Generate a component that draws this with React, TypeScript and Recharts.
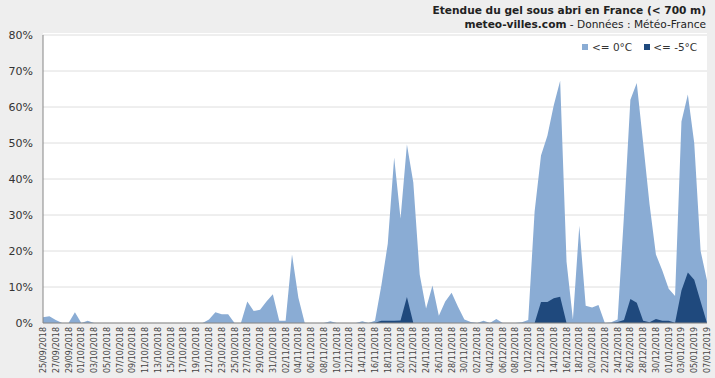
import { AreaChart, Area, XAxis, YAxis, CartesianGrid } from 'recharts';

// daily dates, 25/09/2018 -> 07/01/2019
const DATES = [
  '25/09/2018', '26/09/2018', '27/09/2018', '28/09/2018', '29/09/2018', '30/09/2018',
  '01/10/2018', '02/10/2018', '03/10/2018', '04/10/2018', '05/10/2018', '06/10/2018', '07/10/2018', '08/10/2018',
  '09/10/2018', '10/10/2018', '11/10/2018', '12/10/2018', '13/10/2018', '14/10/2018', '15/10/2018', '16/10/2018',
  '17/10/2018', '18/10/2018', '19/10/2018', '20/10/2018', '21/10/2018', '22/10/2018', '23/10/2018', '24/10/2018',
  '25/10/2018', '26/10/2018', '27/10/2018', '28/10/2018', '29/10/2018', '30/10/2018', '31/10/2018',
  '01/11/2018', '02/11/2018', '03/11/2018', '04/11/2018', '05/11/2018', '06/11/2018', '07/11/2018', '08/11/2018',
  '09/11/2018', '10/11/2018', '11/11/2018', '12/11/2018', '13/11/2018', '14/11/2018', '15/11/2018', '16/11/2018',
  '17/11/2018', '18/11/2018', '19/11/2018', '20/11/2018', '21/11/2018', '22/11/2018', '23/11/2018', '24/11/2018',
  '25/11/2018', '26/11/2018', '27/11/2018', '28/11/2018', '29/11/2018', '30/11/2018',
  '01/12/2018', '02/12/2018', '03/12/2018', '04/12/2018', '05/12/2018', '06/12/2018', '07/12/2018', '08/12/2018',
  '09/12/2018', '10/12/2018', '11/12/2018', '12/12/2018', '13/12/2018', '14/12/2018', '15/12/2018', '16/12/2018',
  '17/12/2018', '18/12/2018', '19/12/2018', '20/12/2018', '21/12/2018', '22/12/2018', '23/12/2018', '24/12/2018',
  '25/12/2018', '26/12/2018', '27/12/2018', '28/12/2018', '29/12/2018', '30/12/2018', '31/12/2018',
  '01/01/2019', '02/01/2019', '03/01/2019', '04/01/2019', '05/01/2019', '06/01/2019', '07/01/2019',
];

// % of stations at or below 0°C
const GEL_0 = [
  1.6, 1.9, 0.8, 0, 0, 3, 0, 0.6, 0, 0, 0, 0, 0, 0, 0, 0, 0, 0, 0, 0,
  0, 0, 0, 0, 0, 0, 1, 3, 2.4, 2.4, 0, 0, 6, 3.3, 3.7, 6, 8, 0.6, 0.6, 19,
  7, 0, 0, 0, 0, 0.5, 0, 0, 0, 0, 0.5, 0, 0.6, 10.5, 22, 46, 29, 49.6, 39, 13.5,
  4, 10.4, 2, 6, 8.4, 4.5, 1, 0.3, 0, 0.6, 0, 1.1, 0, 0, 0, 0.2, 0.8, 31, 46.5, 52,
  60.5, 67.3, 17, 1, 27, 4.8, 4.3, 5, 0, 0.2, 1, 30, 62, 66.7, 50, 33, 19, 14.6, 9.5, 7.5,
  56, 63.5, 50, 20, 11.8,
];

// % of stations at or below -5°C
const GEL_5 = [
  0, 0, 0, 0, 0, 0, 0, 0, 0, 0, 0, 0, 0, 0, 0, 0, 0, 0, 0, 0,
  0, 0, 0, 0, 0, 0, 0, 0, 0, 0, 0, 0, 0, 0, 0, 0, 0, 0, 0, 0,
  0, 0, 0, 0, 0, 0, 0, 0, 0, 0, 0, 0, 0.1, 0.6, 0.6, 0.6, 0.7, 7.2, 0, 0,
  0, 0, 0, 0, 0, 0, 0, 0, 0, 0, 0, 0, 0, 0, 0, 0, 0, 0, 5.8, 5.8,
  6.9, 7.3, 0, 0, 0, 0, 0, 0, 0, 0, 0.3, 0.8, 6.7, 5.6, 0.6, 0.2, 1.1, 0.6, 0.6, 0.1,
  9, 14, 12, 6, 0,
];

const Y_TICKS = [0, 10, 20, 30, 40, 50, 60, 70, 80];

const LIGHT = '#8aacd4';
const DARK = '#1f497d';
const FONT = '"DejaVu Sans", Verdana, sans-serif';

const data = DATES.map((d, i) => ({ date: d, g0: GEL_0[i], g5: GEL_5[i] }));

const DateTick = ({ x, y, payload }: any) => (
  <text
    transform={`translate(${x + 3},${y}) rotate(-90)`}
    textAnchor="end"
    fontSize={8}
    fontFamily={FONT}
    fill="#444"
  >
    {payload.value}
  </text>
);

export default function App() {
  return (
    <div style={{ position: 'absolute', left: 0, top: 0, width: 715, height: 378, background: '#eeeeee', fontFamily: FONT, overflow: 'hidden' }}>
      {/* white plot background */}
      <div style={{ position: 'absolute', left: 43, top: 33, width: 664, height: 290, background: '#fff' }} />

      <div style={{ position: 'absolute', right: 9, top: 3, textAlign: 'right', color: '#222', lineHeight: '14px' }}>
        <div style={{ fontSize: 10.6, fontWeight: 'bold' }}>Etendue du gel sous abri en France (&lt; 700 m)</div>
        <div style={{ fontSize: 10.6 }}>
          <b>meteo-villes.com</b> - Données : Météo-France
        </div>
      </div>

      <div style={{ position: 'absolute', left: 0, top: 0 }}>
        <AreaChart width={715} height={378} data={data} margin={{ top: 35, right: 8, left: 0, bottom: 0 }}>
          <CartesianGrid vertical={false} stroke="#dedede" />
          <XAxis
            dataKey="date"
            interval={1}
            height={55}
            tickLine={false}
            tickSize={0}
            tickMargin={4}
            axisLine={{ stroke: '#868686' }}
            tick={<DateTick />}
          />
          <YAxis
            width={43}
            domain={[0, 80]}
            ticks={Y_TICKS}
            tickFormatter={(v) => `${v}%`}
            tickLine={false}
            tickSize={8}
            tickMargin={2}
            axisLine={{ stroke: '#868686' }}
            tick={{ fontSize: 11, fill: '#333', fontFamily: FONT }}
          />
          <Area type="linear" dataKey="g0" stroke="none" fill={LIGHT} fillOpacity={1} isAnimationActive={false} />
          <Area type="linear" dataKey="g5" stroke="none" fill={DARK} fillOpacity={1} isAnimationActive={false} />
        </AreaChart>
      </div>

      {/* legend */}
      <div style={{ position: 'absolute', left: 582, top: 41, display: 'flex', alignItems: 'center', fontSize: 10.5, color: '#333' }}>
        <span style={{ width: 6, height: 6, background: LIGHT, display: 'inline-block', marginRight: 4 }} />
        <span>&lt;= 0°C</span>
        <span style={{ width: 6, height: 6, background: DARK, display: 'inline-block', marginLeft: 12, marginRight: 3 }} />
        <span>&lt;= -5°C</span>
      </div>
    </div>
  );
}
